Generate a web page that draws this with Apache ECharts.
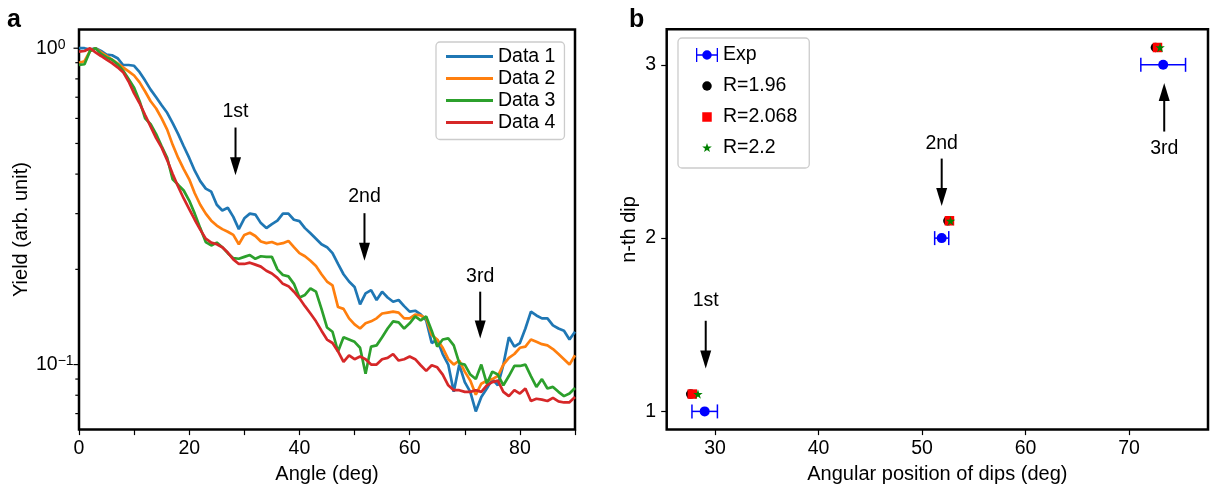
<!DOCTYPE html>
<html><head><meta charset="utf-8">
<script src="https://cdn.jsdelivr.net/npm/echarts@6/dist/echarts.min.js"></script>
<style>html,body{margin:0;padding:0;background:#fff}#c{width:1215px;height:489px}</style>
</head><body><div id="c"></div>
<script>
// ---------- Panel a data ----------
const angles = [0,1,2,3,4,5,6,7,8,9,10,11,12,13,14,15,16,17,18,19,20,21,22,23,24,25,26,27,28,29,30,31,32,33,34,35,36,37,38,39,40,41,42,43,44,45,46,47,48,49,50,51,52,53,54,55,56,57,58,59,60,61,62,63,64,65,66,67,68,69,70,71,72,73,74,75,76,77,78,79,80,81,82,83,84,85,86,87,88,89,90];
const data1 = [1.0,1.0,0.99,1.0,0.98,0.955,0.95,0.93,0.885,0.885,0.88,0.84,0.79,0.74,0.70,0.66,0.625,0.58,0.535,0.49,0.45,0.41,0.38,0.36,0.352,0.32,0.307,0.313,0.293,0.268,0.29,0.30,0.298,0.28,0.27,0.278,0.285,0.30,0.30,0.287,0.284,0.27,0.26,0.25,0.24,0.235,0.225,0.208,0.193,0.183,0.176,0.155,0.168,0.172,0.16,0.17,0.163,0.158,0.16,0.153,0.147,0.148,0.144,0.138,0.117,0.12,0.108,0.1,0.082,0.1,0.088,0.082,0.0711,0.079,0.084,0.09,0.086,0.1,0.122,0.114,0.117,0.13,0.147,0.143,0.14,0.14,0.133,0.13,0.128,0.12,0.127];
const data2 = [0.9,0.91,0.98,1.0,0.97,0.945,0.92,0.895,0.87,0.845,0.82,0.78,0.73,0.68,0.645,0.6,0.553,0.495,0.45,0.415,0.385,0.348,0.32,0.3,0.285,0.275,0.268,0.263,0.257,0.24,0.257,0.261,0.255,0.245,0.242,0.244,0.24,0.242,0.246,0.235,0.225,0.22,0.213,0.205,0.193,0.183,0.178,0.152,0.15,0.14,0.134,0.13,0.135,0.137,0.14,0.145,0.146,0.147,0.146,0.14,0.14,0.144,0.143,0.14,0.124,0.12,0.113,0.104,0.1,0.103,0.095,0.089,0.0803,0.087,0.089,0.09,0.092,0.1,0.105,0.108,0.113,0.114,0.12,0.118,0.116,0.115,0.112,0.108,0.104,0.1,0.107];
const data3 = [0.886,0.89,0.98,1.0,0.96,0.935,0.92,0.89,0.85,0.8,0.75,0.68,0.6,0.575,0.535,0.49,0.45,0.385,0.37,0.355,0.33,0.3,0.27,0.244,0.238,0.243,0.235,0.225,0.217,0.216,0.219,0.222,0.216,0.22,0.219,0.219,0.2,0.192,0.19,0.18,0.163,0.166,0.174,0.17,0.15,0.131,0.127,0.11,0.122,0.12,0.118,0.113,0.0935,0.114,0.115,0.122,0.13,0.137,0.136,0.13,0.135,0.142,0.138,0.142,0.128,0.114,0.12,0.121,0.115,0.101,0.1,0.093,0.09,0.1,0.087,0.095,0.093,0.086,0.092,0.099,0.099,0.1,0.092,0.085,0.09,0.084,0.085,0.082,0.0795,0.081,0.0843];
const data4 = [0.975,0.98,1.0,0.97,0.945,0.92,0.897,0.87,0.84,0.785,0.72,0.67,0.615,0.565,0.52,0.485,0.443,0.4,0.365,0.335,0.31,0.287,0.267,0.25,0.243,0.24,0.235,0.226,0.215,0.208,0.208,0.21,0.207,0.204,0.198,0.194,0.188,0.18,0.177,0.17,0.162,0.153,0.145,0.137,0.128,0.12,0.117,0.11,0.102,0.107,0.104,0.106,0.104,0.1,0.1,0.104,0.105,0.108,0.103,0.104,0.106,0.104,0.0995,0.0955,0.0995,0.098,0.093,0.086,0.083,0.083,0.082,0.082,0.083,0.082,0.086,0.088,0.089,0.082,0.0795,0.083,0.081,0.084,0.0767,0.078,0.0775,0.0767,0.0785,0.0765,0.0759,0.076,0.079];
const seriesNamesA = ['Data 1','Data 2','Data 3','Data 4'];
const yMajorTicksA = [0.1, 1];
const yMinorTicksA = [0.07,0.08,0.09,0.2,0.3,0.4,0.5,0.6,0.7,0.8,0.9];
const arrowLabelsA = ['1st','2nd','3rd'];
const arrowXA = [28.4, 51.8, 72.8];
const arrowTailA = [0.5615, 0.301, 0.170];
const arrowTipA = [0.3967, 0.2128, 0.121];
const arrowTextYA = [0.6305, 0.3406, 0.1895];

// ---------- Panel b data ----------
const dipN = [1, 2, 3];
const expAngle = [29.0, 51.9, 73.3];
const expErr = [1.23, 0.68, 2.16];
const modelN = [1.1, 2.1, 3.1];
const r196Angle = [27.65, 52.5, 72.55];
const r2068Angle = [27.8, 52.65, 72.75];
const r22Angle = [28.35, 52.75, 73.0];
const xTicksB = [30, 40, 50, 60, 70];
const yTicksB = [1, 2, 3];
const arrowLabelsB = ['1st','2nd','3rd'];
const arrowXB = [29.1, 51.9, 73.4];
const arrowTailB = [1.523, 2.459, 2.615];
const arrowTipB = [1.247, 2.185, 2.895];
const arrowTextYB = [1.638, 2.545, 2.516];

const FONT = '"Liberation Sans", Arial, sans-serif';
const colorsA = ['#1f77b4','#ff7f0e','#2ca02c','#d62728'];
const STAR = 'path://M50,0 L61.2,34.5 L97.6,34.5 L68.2,55.9 L79.4,90.5 L50,69.1 L20.6,90.5 L31.8,55.9 L2.4,34.5 L38.8,34.5 Z';

const chart = echarts.init(document.getElementById('c'), null, {renderer: 'canvas'});

function tickRender(len) {
  return function (params, api) {
    const p = api.coord([api.value(0), api.value(1)]);
    return {type: 'line', shape: {x1: p[0] - len, y1: p[1], x2: p[0], y2: p[1]},
      style: {stroke: '#000', lineWidth: 1.2}};
  };
}
function arrowRender(labels) {
  return function (params, api) {
    const x = api.value(0);
    const tail = api.coord([x, api.value(1)]);
    const tip = api.coord([x, api.value(2)]);
    const lab = api.coord([x, api.value(3)]);
    const d = tip[1] > tail[1] ? 1 : -1;
    const hl = 18, hw = 5.5;
    return {type: 'group', children: [
      {type: 'line', shape: {x1: tail[0], y1: tail[1], x2: tip[0], y2: tip[1] - d * (hl - 2)},
        style: {stroke: '#000', lineWidth: 2}},
      {type: 'polygon', shape: {points: [[tip[0], tip[1]], [tip[0] - hw, tip[1] - d * hl], [tip[0] + hw, tip[1] - d * hl]]},
        style: {fill: '#000'}},
      {type: 'text', style: {text: labels[params.dataIndex], x: lab[0], y: lab[1], align: 'center',
        verticalAlign: 'middle', fontSize: 19.5, fontFamily: FONT, fill: '#000'}}
    ]};
  };
}
function errRender(params, api) {
  const y = api.value(2);
  const p1 = api.coord([api.value(0), y]);
  const p2 = api.coord([api.value(1), y]);
  const c = 7;
  const st = {stroke: '#0000ff', lineWidth: 1.5};
  return {type: 'group', children: [
    {type: 'line', shape: {x1: p1[0], y1: p1[1], x2: p2[0], y2: p2[1]}, style: st},
    {type: 'line', shape: {x1: p1[0], y1: p1[1] - c, x2: p1[0], y2: p1[1] + c}, style: st},
    {type: 'line', shape: {x1: p2[0], y1: p2[1] - c, x2: p2[0], y2: p2[1] + c}, style: st}
  ]};
}

const labelStyle = {fontSize: 19.5, fontFamily: FONT, color: '#000'};
const nameStyle = {fontSize: 20, fontFamily: FONT, color: '#000'};

const series = [];
[data1, data2, data3, data4].forEach((d, i) => {
  series.push({type: 'line', name: seriesNamesA[i], xAxisIndex: 0, yAxisIndex: 0,
    data: angles.map((a, j) => [a, d[j]]), symbol: 'none', color: colorsA[i],
    lineStyle: {width: 2.7, color: colorsA[i]}, z: 3});
});
series.push({type: 'custom', xAxisIndex: 0, yAxisIndex: 0, renderItem: tickRender(5.5), clip: false,
  data: yMajorTicksA.map(v => [0, v]), silent: true, z: 5});
series.push({type: 'custom', xAxisIndex: 0, yAxisIndex: 0, renderItem: tickRender(3.7), clip: false,
  data: yMinorTicksA.map(v => [0, v]), silent: true, z: 5});
series.push({type: 'custom', xAxisIndex: 0, yAxisIndex: 0, renderItem: arrowRender(arrowLabelsA), clip: false,
  data: arrowXA.map((x, i) => [x, arrowTailA[i], arrowTipA[i], arrowTextYA[i]]),
  encode: {x: 0, y: [1, 2, 3]}, silent: true, z: 6});

series.push({type: 'custom', xAxisIndex: 1, yAxisIndex: 1, renderItem: errRender, clip: false,
  data: expAngle.map((x, i) => [x - expErr[i], x + expErr[i], dipN[i]]),
  encode: {x: [0, 1], y: 2}, silent: true, z: 3});
series.push({type: 'scatter', name: 'Exp', xAxisIndex: 1, yAxisIndex: 1, symbol: 'circle', symbolSize: 10,
  itemStyle: {color: '#0000ff', opacity: 1}, data: expAngle.map((x, i) => [x, dipN[i]]), z: 4});
series.push({type: 'scatter', name: 'R=1.96', xAxisIndex: 1, yAxisIndex: 1, symbol: 'circle', symbolSize: 9.5,
  itemStyle: {color: '#000000', opacity: 1}, data: r196Angle.map((x, i) => [x, modelN[i]]), z: 4});
series.push({type: 'scatter', name: 'R=2.068', xAxisIndex: 1, yAxisIndex: 1, symbol: 'rect', symbolSize: 9.5,
  itemStyle: {color: '#ff0000', opacity: 1}, data: r2068Angle.map((x, i) => [x, modelN[i]]), z: 4});
series.push({type: 'scatter', name: 'R=2.2', xAxisIndex: 1, yAxisIndex: 1, symbol: STAR, symbolSize: 9.5,
  itemStyle: {color: '#008000', opacity: 1}, data: r22Angle.map((x, i) => [x, modelN[i]]), z: 4});
series.push({type: 'custom', xAxisIndex: 1, yAxisIndex: 1, renderItem: arrowRender(arrowLabelsB), clip: false,
  data: arrowXB.map((x, i) => [x, arrowTailB[i], arrowTipB[i], arrowTextYB[i]]),
  encode: {x: 0, y: [1, 2, 3]}, silent: true, z: 6});

const ICON_EXP = 'path://M0,0h1.3v14h-1.3z M20.7,0h1.3v14h-1.3z M0,6.3h22v1.4h-22z M15.75,7a4.75,4.75 0 1,1 -9.5,0a4.75,4.75 0 1,1 9.5,0z';
const ICON_CIRC = 'path://M0,0L0,0 M22,14L22,14 M15.75,7a4.75,4.75 0 1,1 -9.5,0a4.75,4.75 0 1,1 9.5,0z';
const ICON_SQ = 'path://M0,0L0,0 M22,14L22,14 M6.25,2.25h9.5v9.5h-9.5z';
const ICON_STAR = 'path://M0,0L0,0 M22,14L22,14 M11,2 L12.2,5.4 L15.8,5.5 L12.95,7.7 L14,11.1 L11,9.05 L8,11.1 L9.05,7.7 L6.2,5.5 L9.8,5.4 Z';

const option = {
  animation: false,
  backgroundColor: '#ffffff',
  title: [
    {text: 'a', left: 7, top: 8, padding: 0, textStyle: {fontSize: 25, fontWeight: 'bold', fontFamily: FONT, color: '#000'}},
    {text: 'b', left: 629, top: 8, padding: 0, textStyle: {fontSize: 25, fontWeight: 'bold', fontFamily: FONT, color: '#000'}}
  ],
  legend: [
    {data: seriesNamesA, orient: 'vertical', left: 436, top: 42, itemWidth: 47, itemHeight: 3, icon: 'rect',
      itemGap: 2, padding: [4.5, 9, 7, 10], borderColor: '#cccccc', borderWidth: 1.3, borderRadius: 4,
      backgroundColor: '#ffffff', selectedMode: false, textStyle: {fontSize: 19.5, fontFamily: FONT, color: '#000'}},
    {data: [{name: 'Exp', icon: ICON_EXP}, {name: 'R=1.96', icon: ICON_CIRC}, {name: 'R=2.068', icon: ICON_SQ}, {name: 'R=2.2', icon: ICON_STAR}],
      orient: 'vertical', left: 678, top: 38, itemWidth: 22, itemHeight: 14, itemGap: 11,
      padding: [7, 12, 10, 18], borderColor: '#cccccc', borderWidth: 1.3, borderRadius: 4,
      itemStyle: {opacity: 1},
      backgroundColor: '#ffffff', selectedMode: false, textStyle: {fontSize: 19.5, fontFamily: FONT, color: '#000'}}
  ],
  grid: [
    {left: 79, top: 29.5, width: 496, height: 402.5, show: true, borderColor: '#000', borderWidth: 2.5, backgroundColor: 'transparent', containLabel: false},
    {left: 666.7, top: 29.3, width: 541.3, height: 402.4, show: true, borderColor: '#000', borderWidth: 2.5, backgroundColor: 'transparent', containLabel: false}
  ],
  xAxis: [
    {gridIndex: 0, type: 'value', min: 0, max: 90, interval: 10,
      axisLine: {show: false}, splitLine: {show: false},
      axisTick: {show: true, length: 5.5, lineStyle: {color: '#000', width: 1.2}},
      axisLabel: Object.assign({margin: 9.5, formatter: v => (v % 20 === 0 ? String(v) : '')}, labelStyle),
      name: 'Angle (deg)', nameLocation: 'middle', nameGap: 34, nameTextStyle: nameStyle},
    {gridIndex: 1, type: 'value', min: 25.33, max: 77.63,
      axisLine: {show: false}, splitLine: {show: false},
      axisTick: {show: true, length: 5.5, customValues: xTicksB, lineStyle: {color: '#000', width: 1.2}},
      axisLabel: Object.assign({margin: 9.5, customValues: xTicksB, formatter: v => String(v)}, labelStyle),
      name: 'Angular position of dips (deg)', nameLocation: 'middle', nameGap: 34, nameTextStyle: nameStyle}
  ],
  yAxis: [
    {gridIndex: 0, type: 'log', logBase: 10, min: 0.0623, max: 1.146,
      axisLine: {show: false}, splitLine: {show: false}, axisTick: {show: false}, minorTick: {show: false},
      axisLabel: {align: 'left', margin: 43, color: '#000',
        formatter: function (v) {
          const l = Math.log10(v), r = Math.round(l);
          if (Math.abs(l - r) > 1e-6) return '';
          return '{b|10}{s|' + (r < 0 ? '\u2212' + (-r) : String(r)) + '}';
        },
        rich: {b: {fontSize: 19.5, fontFamily: FONT, color: '#000'}, s: {fontSize: 14, fontFamily: FONT, color: '#000', verticalAlign: 'top'}}},
      name: 'Yield (arb. unit)', nameLocation: 'middle', nameGap: 47.5, nameRotate: 90, nameTextStyle: nameStyle},
    {gridIndex: 1, type: 'value', min: 0.895, max: 3.205,
      axisLine: {show: false}, splitLine: {show: false},
      axisTick: {show: true, length: 5.5, customValues: yTicksB, lineStyle: {color: '#000', width: 1.2}},
      axisLabel: Object.assign({margin: 10.5, customValues: yTicksB, formatter: v => String(v)}, labelStyle),
      name: 'n-th dip', nameLocation: 'middle', nameGap: 27.5, nameRotate: 90, nameTextStyle: nameStyle}
  ],
  series: series
};
chart.setOption(option);
</script>
</body></html>
